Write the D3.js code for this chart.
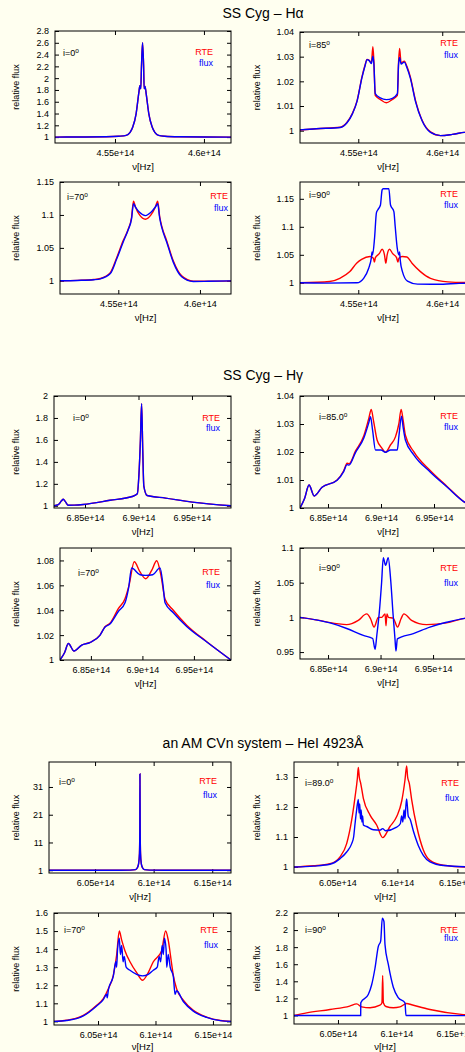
<!DOCTYPE html>
<html>
<head>
<meta charset="utf-8">
<script src="https://cdn.jsdelivr.net/npm/d3@7"></script>
<style>
  body { margin: 0; background: #fffff0; }
  text { font-family: "Liberation Sans", Arial, sans-serif; fill: #000; }
</style>
</head>
<body>
<svg id="chart" width="465" height="1052"></svg>
<script>
// ---- data: frequency in units of 1e14 Hz, relative flux ----
var haTicks = [4.55, 4.6];
var hgTicks = [6.85, 6.9, 6.95];
var amTicks = [6.05, 6.1, 6.15];

// SS Cyg - H alpha
var ha0Profile = [[4.5163,1.0],[4.53,1.002],[4.545,1.006],[4.552,1.015],[4.5563,1.03],[4.5585,1.08],[4.56,1.17],[4.5619,1.4],[4.5634,1.75],[4.564,1.87],[4.5645,1.82],[4.5649,2.2],[4.5655,2.6],[4.5661,2.2],[4.5664,1.82],[4.5669,1.86],[4.5676,1.72],[4.569,1.4],[4.5709,1.17],[4.5724,1.08],[4.5745,1.03],[4.578,1.015],[4.586,1.006],[4.60,1.002],[4.616,1.0]];
var ha85Rte = [[4.5153,1.0003],[4.525,1.0008],[4.5393,1.0014],[4.5433,1.0034],[4.5465,1.007],[4.5493,1.0122],[4.5522,1.0218],[4.554,1.0265],[4.5552,1.0289],[4.5565,1.0285],[4.5578,1.0275],[4.5587,1.034],[4.5593,1.028],[4.5601,1.0143],[4.5631,1.0127],[4.5667,1.0113],[4.5703,1.0127],[4.5733,1.0143],[4.574,1.028],[4.5746,1.0333],[4.5755,1.0275],[4.5774,1.0282],[4.579,1.026],[4.581,1.0218],[4.584,1.0125],[4.588,1.0042],[4.593,0.9995],[4.599,0.998],[4.606,0.9985],[4.613,0.9993],[4.621,1.0]];
var ha85Flux = [[4.5153,1.0003],[4.525,1.0008],[4.5393,1.0013],[4.5433,1.0032],[4.5465,1.0068],[4.5493,1.012],[4.5522,1.0215],[4.554,1.0262],[4.5552,1.0288],[4.5565,1.0284],[4.5578,1.0272],[4.5587,1.0302],[4.5593,1.027],[4.5601,1.015],[4.5631,1.0133],[4.5667,1.0126],[4.5703,1.0131],[4.5733,1.015],[4.574,1.027],[4.5746,1.0297],[4.5755,1.027],[4.5774,1.0278],[4.579,1.0255],[4.581,1.0213],[4.584,1.012],[4.588,1.004],[4.593,0.9993],[4.599,0.998],[4.606,0.9985],[4.613,0.9993],[4.621,1.0]];
var ha70Rte = [[4.5143,1.0],[4.525,1.0007],[4.535,1.002],[4.539,1.0035],[4.5451,1.0125],[4.549,1.035],[4.553,1.061],[4.556,1.078],[4.5581,1.096],[4.5593,1.121],[4.5605,1.112],[4.563,1.1],[4.5666,1.0935],[4.570,1.1],[4.5727,1.112],[4.5741,1.121],[4.5753,1.098],[4.5766,1.083],[4.5796,1.061],[4.5837,1.03],[4.5888,1.0075],[4.5959,0.9995],[4.605,0.9995],[4.62,1.0]];
var ha70Flux = [[4.5143,1.0],[4.525,1.0006],[4.535,1.0017],[4.539,1.003],[4.5451,1.011],[4.549,1.033],[4.553,1.059],[4.556,1.077],[4.5581,1.094],[4.5593,1.117],[4.5605,1.112],[4.563,1.104],[4.5666,1.099],[4.570,1.104],[4.5727,1.112],[4.5741,1.117],[4.5753,1.096],[4.5766,1.081],[4.5796,1.059],[4.5837,1.028],[4.5888,1.0062],[4.5959,0.999],[4.605,0.9993],[4.62,1.0]];
var ha90Rte = [[4.5153,1.0],[4.533,1.0023],[4.539,1.008],[4.545,1.02],[4.549,1.035],[4.552,1.042],[4.557,1.047],[4.559,1.044],[4.5596,1.037],[4.5602,1.045],[4.5625,1.052],[4.5642,1.06],[4.5656,1.05],[4.5664,1.035],[4.5672,1.05],[4.5686,1.06],[4.5705,1.052],[4.5728,1.045],[4.5736,1.037],[4.5742,1.044],[4.5762,1.047],[4.579,1.046],[4.582,1.035],[4.587,1.02],[4.593,1.008],[4.6034,1.0017],[4.621,1.0]];
var ha90Flux = [[4.5153,1.0],[4.53,0.9995],[4.5492,1.0],[4.5532,1.008],[4.5562,1.026],[4.5578,1.045],[4.5582,1.055],[4.5585,1.05],[4.5597,1.08],[4.5608,1.125],[4.5616,1.13],[4.5632,1.139],[4.5642,1.166],[4.5648,1.168],[4.5682,1.168],[4.5692,1.139],[4.5712,1.127],[4.572,1.1],[4.5732,1.062],[4.5742,1.05],[4.5746,1.055],[4.575,1.04],[4.5763,1.02],[4.5793,1.003],[4.5853,0.9976],[4.5973,0.9973],[4.61,0.999],[4.621,1.0]];

// SS Cyg - H gamma
var hg0Profile = [[6.821,1.0],[6.825,1.01],[6.828,1.045],[6.8297,1.06],[6.8315,1.04],[6.8344,1.005],[6.84,1.006],[6.8484,1.012],[6.8733,1.05],[6.8941,1.085],[6.8989,1.11],[6.9004,1.28],[6.9018,1.6],[6.9029,1.93],[6.904,1.5],[6.905,1.18],[6.9081,1.094],[6.9253,1.07],[6.9502,1.034],[6.9865,1.0]];
var hg85Rte = [[6.8236,1.0],[6.828,1.0035],[6.8321,1.0082],[6.837,1.0043],[6.8444,1.0074],[6.8586,1.01],[6.8648,1.0133],[6.868,1.016],[6.8698,1.0158],[6.8759,1.0203],[6.8838,1.0258],[6.8885,1.032],[6.8908,1.0352],[6.893,1.031],[6.8963,1.0243],[6.901,1.0213],[6.9042,1.0199],[6.9089,1.0225],[6.9137,1.0255],[6.9168,1.03],[6.919,1.0352],[6.921,1.031],[6.923,1.026],[6.9309,1.0201],[6.9466,1.0133],[6.9623,1.0077],[6.978,1.0023],[6.99,1.0]];
var hg85Flux = [[6.8236,1.0],[6.828,1.0035],[6.8321,1.0082],[6.837,1.0043],[6.8444,1.0074],[6.8586,1.0099],[6.8648,1.013],[6.868,1.0155],[6.8698,1.0153],[6.8759,1.0198],[6.8838,1.025],[6.8885,1.0305],[6.8901,1.0326],[6.892,1.028],[6.8948,1.0207],[6.9,1.0207],[6.9042,1.0199],[6.909,1.0207],[6.9153,1.0207],[6.917,1.026],[6.9193,1.0328],[6.921,1.0285],[6.923,1.0243],[6.9309,1.019],[6.9466,1.0128],[6.9623,1.0075],[6.978,1.0023],[6.99,1.0]];
var hg70Rte = [[6.82,1.0],[6.8245,1.006],[6.8281,1.0133],[6.8336,1.0072],[6.8411,1.012],[6.8491,1.0141],[6.8588,1.02],[6.8637,1.0267],[6.8685,1.0295],[6.8766,1.0413],[6.8831,1.0493],[6.887,1.06],[6.8921,1.079],[6.8975,1.071],[6.9032,1.0653],[6.909,1.072],[6.9139,1.0797],[6.918,1.068],[6.922,1.0488],[6.93,1.04],[6.943,1.028],[6.9625,1.0147],[6.986,1.0]];
var hg70Flux = [[6.82,1.0],[6.8245,1.006],[6.8281,1.0133],[6.8336,1.0072],[6.8411,1.012],[6.8491,1.014],[6.8588,1.0198],[6.8637,1.0265],[6.8685,1.029],[6.8766,1.039],[6.8831,1.046],[6.8866,1.058],[6.8896,1.0739],[6.8977,1.0685],[6.9032,1.068],[6.91,1.0685],[6.9171,1.074],[6.92,1.06],[6.922,1.046],[6.93,1.038],[6.943,1.027],[6.9625,1.0145],[6.986,1.0]];
var hg90Rte = [[6.8233,1.0],[6.84,0.996],[6.8582,0.991],[6.8678,0.9895],[6.8788,0.9957],[6.8868,1.005],[6.8905,0.998],[6.8938,0.986],[6.8979,1.0],[6.9011,1.0],[6.9043,1.005],[6.9052,0.988],[6.9061,1.005],[6.9075,1.0],[6.912,0.999],[6.9162,0.986],[6.9195,0.998],[6.9222,1.005],[6.9295,0.9957],[6.9438,0.9895],[6.9628,0.992],[6.9803,0.9986],[6.991,1.0]];
var hg90Flux = [[6.8233,1.0],[6.8519,0.992],[6.8678,0.984],[6.8836,0.974],[6.8925,0.9695],[6.8948,0.954],[6.8965,0.975],[6.8988,1.007],[6.901,1.05],[6.9026,1.086],[6.9048,1.075],[6.9073,1.086],[6.9096,1.055],[6.912,1.003],[6.9137,0.97],[6.9147,0.9514],[6.916,0.969],[6.9312,0.9767],[6.947,0.986],[6.9628,0.9929],[6.9803,0.9986],[6.991,1.0]];

// AM CVn - HeI 4923
var am0Profile = [[6.0107,1.0],[6.07,1.0],[6.08,1.05],[6.0845,1.2],[6.0862,2],[6.0872,3.5],[6.0879,7],[6.0882,16],[6.0883,35.7],[6.0885,16],[6.0888,7],[6.0894,3.5],[6.0904,2],[6.0921,1.2],[6.0966,1.05],[6.11,1.0],[6.166,1.0]];
var am89Rte = [[6.0138,1.0],[6.03,1.004],[6.0438,1.011],[6.0522,1.034],[6.0577,1.078],[6.0619,1.157],[6.0647,1.234],[6.0666,1.295],[6.0674,1.332],[6.0682,1.3],[6.0694,1.279],[6.0716,1.229],[6.0772,1.173],[6.0827,1.14],[6.0877,1.098],[6.0938,1.135],[6.0994,1.168],[6.1036,1.22],[6.1063,1.29],[6.1077,1.337],[6.1085,1.3],[6.1099,1.279],[6.1119,1.224],[6.1161,1.135],[6.1216,1.057],[6.1272,1.022],[6.1383,1.006],[6.16,1.0],[6.166,1.0]];
var am89Flux = [[6.0138,1.0],[6.03,1.003],[6.0438,1.009],[6.0522,1.028],[6.0577,1.05],[6.0619,1.078],[6.0635,1.1],[6.0647,1.145],[6.066,1.19],[6.0674,1.225],[6.068,1.18],[6.0686,1.21],[6.0692,1.16],[6.0698,1.19],[6.0704,1.15],[6.071,1.17],[6.0716,1.14],[6.0744,1.135],[6.08,1.124],[6.0855,1.123],[6.0877,1.128],[6.09,1.121],[6.0994,1.133],[6.1025,1.145],[6.1035,1.17],[6.1045,1.15],[6.1055,1.19],[6.1063,1.16],[6.107,1.2],[6.1077,1.227],[6.109,1.17],[6.1105,1.16],[6.1133,1.12],[6.1174,1.072],[6.1216,1.039],[6.1272,1.017],[6.1383,1.005],[6.166,1.0]];
var am70Rte = [[6.0117,1.0],[6.0227,1.006],[6.0372,1.033],[6.0488,1.089],[6.0546,1.126],[6.059,1.181],[6.0633,1.255],[6.0662,1.367],[6.0685,1.5],[6.0706,1.45],[6.0735,1.39],[6.0778,1.33],[6.0836,1.27],[6.0888,1.228],[6.0937,1.27],[6.0981,1.33],[6.1053,1.39],[6.1088,1.5],[6.1111,1.45],[6.1138,1.33],[6.1155,1.255],[6.1184,1.18],[6.1242,1.117],[6.1329,1.061],[6.1445,1.024],[6.1565,1.005],[6.1657,1.0]];
var am70Flux = [[6.0117,1.0],[6.0227,1.005],[6.0372,1.03],[6.0488,1.085],[6.0546,1.12],[6.0575,1.15],[6.058,1.13],[6.059,1.175],[6.0633,1.25],[6.0655,1.33],[6.0662,1.3],[6.067,1.4],[6.0685,1.46],[6.0695,1.37],[6.0706,1.42],[6.0718,1.33],[6.0728,1.36],[6.0745,1.3],[6.0778,1.283],[6.0836,1.26],[6.0888,1.252],[6.0937,1.26],[6.0981,1.283],[6.1015,1.3],[6.1032,1.36],[6.1045,1.33],[6.1058,1.42],[6.1068,1.37],[6.1078,1.46],[6.1092,1.4],[6.1098,1.3],[6.1111,1.37],[6.1128,1.3],[6.1155,1.25],[6.117,1.15],[6.1184,1.17],[6.1242,1.11],[6.1329,1.057],[6.1445,1.022],[6.1565,1.004],[6.1657,1.0]];
var am90Rte = [[6.0124,1.0],[6.0232,1.03],[6.0432,1.07],[6.06,1.11],[6.066,1.136],[6.0703,1.1],[6.0774,1.09],[6.0859,1.12],[6.0876,1.15],[6.0882,1.47],[6.0888,1.15],[6.091,1.105],[6.0973,1.09],[6.103,1.1],[6.1087,1.14],[6.113,1.125],[6.1286,1.07],[6.1571,1.01],[6.168,1.0]];
var am90Flux = [[6.0124,1.0],[6.0694,1.0],[6.0695,1.148],[6.0759,1.245],[6.0788,1.36],[6.0816,1.55],[6.0845,1.81],[6.0865,1.87],[6.0879,2.14],[6.0893,2.1],[6.0902,1.83],[6.093,1.6],[6.0973,1.33],[6.1015,1.21],[6.1073,1.148],[6.1081,1.0],[6.168,0.998]];

var titles = ["SS Cyg \u2013 H\u03b1", "SS Cyg \u2013 H\u03b3", "an AM CVn system \u2013 HeI 4923\u00c5"];
var titleY = [18, 380, 748];

// layout of the twelve frames (pixels) and their ranges
var panels = [
  {l:55, r:231, t:31, b:143, xd:[4.5163,4.6152], yd:[0.9,2.8], xt:haTicks, yt:[1,1.2,1.4,1.6,1.8,2,2.2,2.4,2.6,2.8], inc:"0", rte:ha0Profile, flux:ha0Profile, kx:213, ky:[52,63], ix:63, iy:53},
  {l:300, r:476, t:32, b:143, xd:[4.5153,4.6201], yd:[0.995,1.04], xt:haTicks, yt:[1,1.01,1.02,1.03,1.04], inc:"85", rte:ha85Rte, flux:ha85Flux, kx:458, ky:[43,55], ix:309, iy:45},
  {l:60, r:231, t:182, b:294, xd:[4.5143,4.619], yd:[0.98,1.15], xt:haTicks, yt:[1,1.05,1.1,1.15], inc:"70", rte:ha70Rte, flux:ha70Flux, kx:228, ky:[196,208], ix:67, iy:197},
  {l:300, r:476, t:182, b:294, xd:[4.5153,4.6201], yd:[0.98,1.18], xt:haTicks, yt:[1,1.05,1.1,1.15], inc:"90", rte:ha90Rte, flux:ha90Flux, kx:458, ky:[194,205], ix:309, iy:195},
  {l:54, r:231, t:396, b:508, xd:[6.821,6.9865], yd:[0.98,2], xt:hgTicks, yt:[1,1.2,1.4,1.6,1.8,2], inc:"0", rte:hg0Profile, flux:hg0Profile, kx:220, ky:[418,428], ix:73, iy:418},
  {l:300, r:476, t:396, b:508, xd:[6.8236,6.9896], yd:[1,1.04], xt:hgTicks, yt:[1,1.01,1.02,1.03,1.04], inc:"85.0", rte:hg85Rte, flux:hg85Flux, kx:458, ky:[416,427], ix:319, iy:417},
  {l:60, r:231, t:548, b:660, xd:[6.82,6.986], yd:[1,1.09], xt:hgTicks, yt:[1,1.02,1.04,1.06,1.08], inc:"70", rte:hg70Rte, flux:hg70Flux, kx:220, ky:[572,585], ix:78, iy:573},
  {l:300, r:476, t:548, b:659, xd:[6.8233,6.9909], yd:[0.94,1.1], xt:hgTicks, yt:[0.95,1,1.05,1.1], inc:"90", rte:hg90Rte, flux:hg90Flux, kx:458, ky:[568,583], ix:319, iy:568},
  {l:49, r:231, t:762, b:873, xd:[6.0107,6.166], yd:[0,40], xt:amTicks, yt:[1,11,21,31], inc:"0", rte:am0Profile, flux:am0Profile, kx:217, ky:[781,795], ix:59, iy:782},
  {l:294, r:476, t:762, b:873, xd:[6.0138,6.1655], yd:[0.98,1.35], xt:amTicks, yt:[1,1.1,1.2,1.3], inc:"89.0", rte:am89Rte, flux:am89Flux, kx:459, ky:[783,798], ix:305, iy:783},
  {l:54, r:231, t:913, b:1025, xd:[6.0117,6.1657], yd:[0.98,1.6], xt:amTicks, yt:[1,1.1,1.2,1.3,1.4,1.5,1.6], inc:"70", rte:am70Rte, flux:am70Flux, kx:218, ky:[930,945], ix:64, iy:930},
  {l:294, r:476, t:913, b:1024, xd:[6.0124,6.168], yd:[0.9,2.2], xt:amTicks, yt:[1,1.2,1.4,1.6,1.8,2,2.2], inc:"90", rte:am90Rte, flux:am90Flux, kx:458, ky:[930,938], ix:305, iy:930}
];

var svg = d3.select("#chart");
var defs = svg.append("defs");

titles.forEach(function(t, i) {
  svg.append("text")
    .attr("x", 263).attr("y", titleY[i])
    .attr("text-anchor", "middle")
    .style("font-size", "14px")
    .text(t);
});

panels.forEach(function(p, i) {
  var x = d3.scaleLinear().domain(p.xd).range([p.l, p.r]);
  var y = d3.scaleLinear().domain(p.yd).range([p.b, p.t]);
  var g = svg.append("g");

  defs.append("clipPath").attr("id", "clip" + i)
    .append("rect").attr("x", p.l).attr("y", p.t)
    .attr("width", p.r - p.l).attr("height", p.b - p.t);

  // ticks on all four sides, pointing inward
  var ax = [
    [d3.axisBottom(x).tickValues(p.xt).tickFormat(function(d) { return d + "e+14"; }).tickPadding(7), p.b, "x"],
    [d3.axisTop(x).tickValues(p.xt).tickFormat(""), p.t, "x"],
    [d3.axisLeft(y).tickValues(p.yt).tickFormat(function(d) { return String(d); }).tickPadding(6), p.l, "y"],
    [d3.axisRight(y).tickValues(p.yt).tickFormat(""), p.r, "y"]
  ];
  ax.forEach(function(a) {
    var ag = g.append("g")
      .attr("transform", a[2] == "x" ? "translate(0," + a[1] + ")" : "translate(" + a[1] + ",0)")
      .call(a[0].tickSizeInner(-4).tickSizeOuter(0));
    ag.select(".domain").remove();
    ag.selectAll("line").attr("stroke", "#000").attr("stroke-width", 1);
    ag.selectAll("text").style("font-size", "9px").style("font-family", '"Liberation Sans", Arial, sans-serif').attr("fill", "#000");
  });

  var line = d3.line().curve(d3.curveMonotoneX)
    .x(function(d) { return x(d[0]); }).y(function(d) { return y(d[1]); });
  var lines = g.append("g").attr("clip-path", "url(#clip" + i + ")");
  lines.append("path").datum(p.rte).attr("d", line)
    .attr("fill", "none").attr("stroke", "#ff0000").attr("stroke-width", 1.4);
  lines.append("path").datum(p.flux).attr("d", line)
    .attr("fill", "none").attr("stroke", "#0000ff").attr("stroke-width", 1.4);

  g.append("rect").attr("x", p.l).attr("y", p.t)
    .attr("width", p.r - p.l).attr("height", p.b - p.t)
    .attr("fill", "none").attr("stroke", "#000").attr("stroke-width", 1);

  // key
  g.append("text").attr("x", p.kx).attr("y", p.ky[0] + 3.2)
    .attr("text-anchor", "end").style("font-size", "9px").style("fill", "#ff0000").text("RTE");
  g.append("text").attr("x", p.kx).attr("y", p.ky[1] + 3.2)
    .attr("text-anchor", "end").style("font-size", "9px").style("fill", "#0000ff").text("flux");

  // inclination
  var it = g.append("text").attr("x", p.ix).attr("y", p.iy + 3.2).style("font-size", "9px");
  it.append("tspan").text("i=" + p.inc);
  it.append("tspan").attr("dy", -3.5).style("font-size", "6.5px").text("o");

  // axis titles
  var lx = p.l < 150 ? 19 : 260;
  g.append("text").attr("transform", "translate(" + lx + "," + ((p.t + p.b) / 2) + ") rotate(-90)")
    .attr("text-anchor", "middle").style("font-size", "9px").text("relative flux");
  g.append("text").attr("x", (p.l + p.r) / 2).attr("y", Math.min(p.b + 27, 1050))
    .attr("text-anchor", "middle").style("font-size", "9.5px").text("\u03bd[Hz]");
});
</script>
</body>
</html>
